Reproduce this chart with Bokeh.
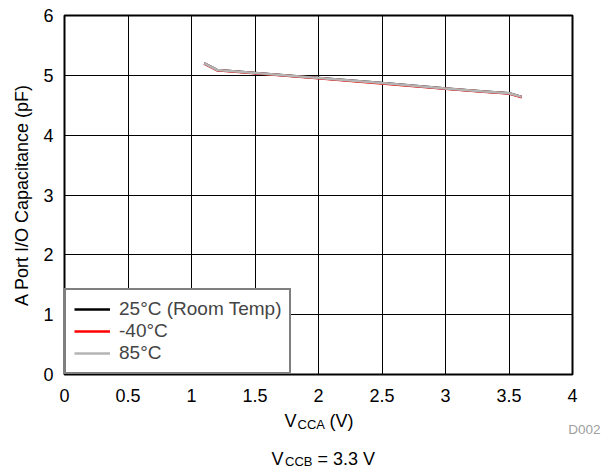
from bokeh.plotting import figure
from bokeh.models import Legend, LegendItem, FixedTicker, Range1d
from bokeh.layouts import column
from bokeh.core.properties import value
from bokeh.embed import file_html
from bokeh.resources import INLINE

# ---- data ----
vcca = [1.1, 1.2, 1.5, 2.0, 2.5, 3.0, 3.3, 3.5, 3.6]
cap_25c = [5.20, 5.09, 5.04, 4.955, 4.87, 4.78, 4.73, 4.70, 4.64]
cap_m40c = [5.195, 5.085, 5.035, 4.95, 4.865, 4.775, 4.725, 4.695, 4.635]
cap_85c = [5.20, 5.09, 5.04, 4.955, 4.87, 4.78, 4.73, 4.70, 4.64]

x_ticks = [0, 0.5, 1, 1.5, 2, 2.5, 3, 3.5, 4]
x_tick_labels = ["0", "0.5", "1", "1.5", "2", "2.5", "3", "3.5", "4"]
y_ticks = [0, 1, 2, 3, 4, 5, 6]
y_tick_labels = ["0", "1", "2", "3", "4", "5", "6"]

series_names = ["25°C (Room Temp)", "-40°C", "85°C"]
series_colors = ["#000000", "#ff0000", "#b4b4b4"]

y_title = "A Port I/O Capacitance (pF)"
x_title_parts = ["V", "CCA", "(V)"]
note_parts = ["V", "CCB", "= 3.3 V"]
fig_id = "D002"

FONT = "Liberation Sans"

# ---- main chart ----
W = 610
H1 = 404
p = figure(
    output_backend="svg", toolbar_location=None,
    width=W, height=H1,
    min_border_left=64, min_border_top=15, min_border_right=38, min_border_bottom=28,
    x_range=Range1d(0, 4), y_range=Range1d(0, 6),
)
p.background_fill_color = "white"
p.border_fill_color = "white"
p.outline_line_color = "black"
p.outline_line_width = 2

for ax in (p.xaxis[0], p.yaxis[0]):
    ax.axis_line_color = None
    ax.major_tick_line_color = None
    ax.minor_tick_line_color = None
    ax.major_tick_out = 0
    ax.major_tick_in = 0
    ax.major_label_text_font = FONT
    ax.major_label_text_font_size = "18px"
    ax.major_label_text_color = "black"

p.xaxis.ticker = FixedTicker(ticks=x_ticks)
p.xaxis.major_label_overrides = dict(zip(x_ticks, x_tick_labels))
p.xaxis.major_label_standoff = 14
p.xaxis.axis_label = None

p.yaxis.ticker = FixedTicker(ticks=y_ticks)
p.yaxis.major_label_overrides = dict(zip(y_ticks, y_tick_labels))
p.yaxis.major_label_standoff = 11
p.yaxis.axis_label = y_title
p.yaxis.axis_label_text_font = FONT
p.yaxis.axis_label_text_font_size = "18px"
p.yaxis.axis_label_text_font_style = "normal"
p.yaxis.axis_label_text_color = "black"
p.yaxis.axis_label_standoff = 8

p.xgrid.ticker = FixedTicker(ticks=x_ticks)
p.ygrid.ticker = FixedTicker(ticks=y_ticks)
for g in (p.xgrid[0], p.ygrid[0]):
    g.grid_line_color = "black"
    g.grid_line_width = 1
    g.grid_line_alpha = 1.0

renderers = []
for vals, col in zip([cap_25c, cap_m40c, cap_85c], series_colors):
    renderers.append(p.line(vcca, vals, line_color=col, line_width=2.5))

legend = Legend(
    items=[LegendItem(label=n, renderers=[r]) for n, r in zip(series_names, renderers)],
    location="bottom_left", margin=0, padding=8, spacing=0,
    border_line_color="black", border_line_width=2,
    background_fill_color="white", background_fill_alpha=1.0,
    label_text_font=FONT, label_text_font_size="19px",
    glyph_width=36, glyph_height=20, label_height=20, label_standoff=9,
)
p.add_layout(legend)

# ---- caption strip below the chart (x title, figure id, condition note) ----
H2 = 472 - H1
q = figure(
    output_backend="svg", toolbar_location=None,
    width=W, height=H2, min_border=0,
    x_range=Range1d(0, W), y_range=Range1d(H2, 0),
)
q.axis.visible = False
q.grid.visible = False
q.outline_line_color = None
q.background_fill_color = "white"
q.border_fill_color = "white"
if "frame_align" in q.properties():
    p.frame_align = False
    q.frame_align = False

# text placement in strip pixels (x from left, y = baseline from strip top)
cap_x = [284, 297, 329, 600, 271, 284.5, 317]
cap_y = [16, 19.5, 16, 24.5, 54, 57.3, 54]
cap_txt = [x_title_parts[0], x_title_parts[1], x_title_parts[2], fig_id,
           note_parts[0], note_parts[1], note_parts[2]]
cap_size = ["18px", "13px", "18px", "13.5px", "18px", "13px", "18px"]
cap_col = ["black", "black", "black", "#a0a0a0", "black", "black", "black"]
cap_align = ["left", "left", "left", "right", "left", "left", "left"]

for tx, ty, tt, ts, tc, ta in zip(cap_x, cap_y, cap_txt, cap_size, cap_col, cap_align):
    q.text(x=[tx], y=[ty], text=[tt], text_font=value(FONT), text_font_size=ts,
           text_color=tc, text_align=ta, text_baseline="alphabetic")

layout = column(p, q, spacing=0)
open("out.html", "w").write(file_html(layout, INLINE))
